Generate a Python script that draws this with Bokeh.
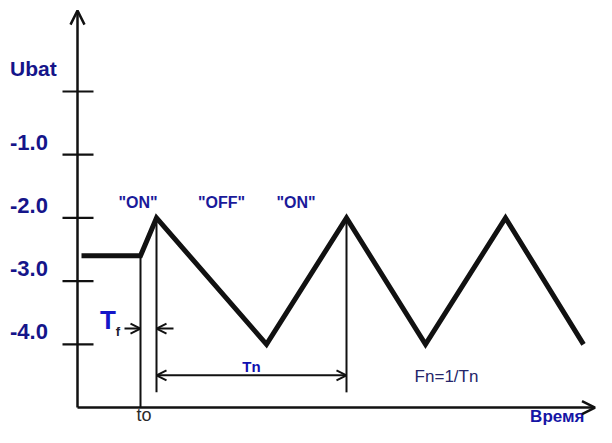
from bokeh.plotting import figure
from bokeh.models import Arrow, OpenHead, Range1d
from bokeh.core.properties import value
from bokeh.embed import file_html
from bokeh.resources import INLINE

# ---- data (time units, volts) ----
wave_t = [0.4, 6.3, 7.9, 18.9, 26.9, 34.8, 42.8, 50.6]
wave_v = [-2.6, -2.6, -2.0, -4.0, -2.0, -4.0, -2.0, -4.0]
tick_values = [0.0, -1.0, -2.0, -3.0, -4.0]
tick_labels = ["", "-1.0", "-2.0", "-3.0", "-4.0"]
state_labels = ['"ON"', '"OFF"', '"ON"']
state_t = [6.05, 14.4, 21.85]
t0 = 6.3
peak_t = [7.9, 26.9]
peak_v = -2.0
axis_v = -5.0
axis_top = 1.28
axis_right = 51.75
tn_v = -4.49
tf_v = -3.75

FONT = value("Liberation Sans")
INK = "#111111"

p = figure(width=596, height=427, output_backend="svg", toolbar_location=None,
           x_axis_location=None, y_axis_location=None, min_border=0,
           x_range=Range1d(-7.7, 51.9), y_range=Range1d(-5.316, 1.44))
p.outline_line_color = None
p.xgrid.visible = False
p.ygrid.visible = False
p.background_fill_color = "white"
p.border_fill_color = "white"

# axes with open arrowheads
p.add_layout(Arrow(end=OpenHead(size=14, line_width=2.5, line_color=INK),
                   x_start=0, y_start=axis_v, x_end=0, y_end=axis_top,
                   line_width=2.5, line_color=INK))
p.add_layout(Arrow(end=OpenHead(size=13, line_width=2.5, line_color=INK),
                   x_start=0, y_start=axis_v, x_end=axis_right, y_end=axis_v,
                   line_width=2.5, line_color=INK))

# y ticks
p.segment(x0=[-1.5] * len(tick_values), x1=[1.6] * len(tick_values),
          y0=tick_values, y1=tick_values, line_width=2.2, line_color=INK)
p.text(x=[-6.75] * len(tick_values), y=[v + 0.2 for v in tick_values], text=tick_labels,
       text_font=FONT, text_font_size="22px", text_font_style="bold", text_color="#15158a",
       text_align="left", text_baseline="middle")
p.text(x=[-6.75], y=[tick_values[0] + 0.364], text=["Ubat"],
       text_font=FONT, text_font_size="21px", text_font_style="bold", text_color="#15158a",
       text_align="left", text_baseline="middle")

# marker lines
p.segment(x0=[t0], x1=[t0], y0=[wave_v[0]], y1=[axis_v], line_width=2, line_color=INK)
p.segment(x0=peak_t, x1=peak_t, y0=[peak_v] * 2, y1=[-4.76] * 2, line_width=2, line_color=INK)

# waveform
p.line(wave_t, wave_v, line_width=5, line_color=INK, line_join="miter")

# Tn arrow
p.add_layout(Arrow(start=OpenHead(size=10, line_width=2, line_color=INK),
                   end=OpenHead(size=10, line_width=2, line_color=INK),
                   x_start=peak_t[0], y_start=tn_v, x_end=peak_t[1], y_end=tn_v,
                   line_width=2, line_color=INK))
p.text(x=[(peak_t[0] + peak_t[1]) / 2], y=[tn_v + 0.14], text=["Tn"],
       text_font=FONT, text_font_size="15px", text_font_style="bold", text_color="#1010b0",
       text_align="center", text_baseline="middle")

# Tf arrows
p.add_layout(Arrow(end=OpenHead(size=10, line_width=2, line_color=INK),
                   x_start=t0 - 1.6, y_start=tf_v, x_end=t0, y_end=tf_v,
                   line_width=2, line_color=INK))
p.add_layout(Arrow(end=OpenHead(size=10, line_width=2, line_color=INK),
                   x_start=peak_t[0] + 1.7, y_start=tf_v, x_end=peak_t[0], y_end=tf_v,
                   line_width=2, line_color=INK))
p.text(x=[3.05], y=[-3.62], text=["T"], text_font=FONT, text_font_size="26px",
       text_font_style="bold", text_color="#1515c8", text_align="center", text_baseline="middle")
p.text(x=[4.05], y=[-3.80], text=["f"], text_font=FONT, text_font_size="13px",
       text_font_style="bold", text_color="#202030", text_align="center", text_baseline="middle")

# state labels
p.text(x=state_t, y=[-1.76] * 3, text=state_labels, text_font=FONT, text_font_size="16px",
       text_font_style="bold", text_color="#1a1a9a", text_align="center", text_baseline="middle")

# other labels
p.text(x=[36.9], y=[-4.51], text=["Fn=1/Tn"], text_font=FONT, text_font_size="17px",
       text_color="#25256a", text_align="center", text_baseline="middle")
p.text(x=[t0 + 0.35], y=[-5.119], text=["to"], text_font=FONT, text_font_size="18px",
       text_color="#2a2a2a", text_align="center", text_baseline="middle")
p.text(x=[50.7], y=[-5.142], text=["Время"], text_font=FONT, text_font_size="17px",
       text_font_style="bold", text_color="#1515a5", text_align="right", text_baseline="middle")

open("out.html", "w").write(file_html(p, INLINE))
